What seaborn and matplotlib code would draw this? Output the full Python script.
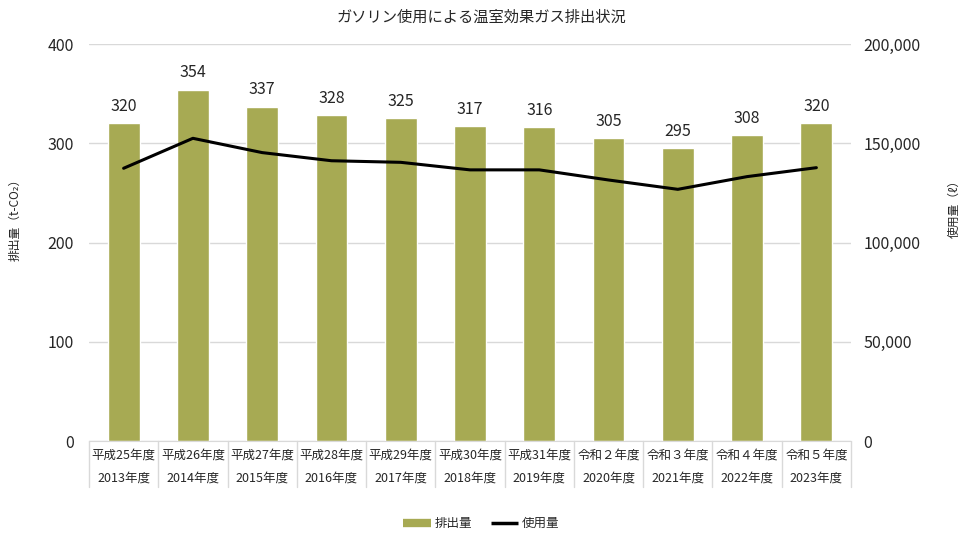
import numpy as np
import seaborn as sns
import matplotlib.pyplot as plt
from matplotlib.lines import Line2D
from matplotlib.ticker import FuncFormatter

# データ
wareki = ['平成25年度', '平成26年度', '平成27年度', '平成28年度', '平成29年度', '平成30年度',
          '平成31年度', '令和２年度', '令和３年度', '令和４年度', '令和５年度']
seireki = ['2013年度', '2014年度', '2015年度', '2016年度', '2017年度', '2018年度',
           '2019年度', '2020年度', '2021年度', '2022年度', '2023年度']
haishutsu = [320, 354, 337, 328, 325, 317, 316, 305, 295, 308, 320]
shiyou = [137400, 152500, 145300, 141200, 140400, 136600, 136600, 131500, 126800, 133200, 137700]

sns.set_style('white')
plt.rcParams['font.family'] = ['Noto Sans CJK JP', 'DejaVu Sans']
plt.rcParams['text.color'] = '#262626'

fig = plt.figure(figsize=(9.63, 5.33), dpi=100)
ax = fig.add_axes([0.0924, 0.1726, 0.7913, 0.7448])

olive = '#A7AA53'
sns.barplot(x=wareki, y=haishutsu, color=olive, width=0.46, saturation=1, ax=ax)
ax.set_ylim(0, 400)
ax.set_xlim(-0.5, len(wareki) - 0.5)
ax.set_yticks(range(0, 401, 100))
ax.yaxis.grid(True, color='#D9D9D9', lw=1)
ax.set_axisbelow(True)
ax.tick_params(axis='y', length=0, labelsize=11.5, pad=11, colors='#262626')
ax.set_xticks([])
ax.set_xlabel('')
ax.set_ylabel('')
for s in ['top', 'left', 'right']:
    ax.spines[s].set_visible(False)
ax.spines['bottom'].set_color('#D9D9D9')

for i, v in enumerate(haishutsu):
    ax.annotate(str(v), (i, v), xytext=(0, 6), textcoords='offset points',
                ha='center', va='bottom', fontsize=11.5)

# カテゴリ表
trans = ax.get_xaxis_transform()
for i in range(len(wareki) + 1):
    ax.plot([i - 0.5, i - 0.5], [0, -0.115], color='#D9D9D9', lw=1,
            transform=trans, clip_on=False)
for i in range(len(wareki)):
    ax.text(i, -0.035, wareki[i], transform=trans, ha='center', va='center', fontsize=9)
    ax.text(i, -0.093, seireki[i], transform=trans, ha='center', va='center', fontsize=9)

ax2 = ax.twinx()
sns.lineplot(x=np.arange(len(shiyou)), y=shiyou, color='black', lw=2.2, ax=ax2)
ax2.set_ylim(0, 200000)
ax2.set_yticks(range(0, 200001, 50000))
ax2.yaxis.set_major_formatter(FuncFormatter(lambda v, p: f'{int(v):,}'))
ax2.tick_params(axis='y', length=0, labelsize=11.5, pad=9, colors='#262626')
for s in ['top', 'left', 'right', 'bottom']:
    ax2.spines[s].set_visible(False)
ax2.set_xlim(-0.5, len(wareki) - 0.5)

fig.text(0.016, 0.593, '排出量（t-CO₂）', rotation=90, ha='center', va='center', fontsize=8.5)
fig.text(0.991, 0.613, '使用量（ℓ）', rotation=90, ha='center', va='center', fontsize=8.5)
fig.text(0.5, 0.968, 'ガソリン使用による温室効果ガス排出状況', ha='center', va='center', fontsize=11)

handles = [Line2D([], [], color=olive, lw=6, solid_capstyle='butt'),
           Line2D([], [], color='black', lw=2.5, solid_capstyle='butt')]
fig.legend(handles, ['排出量', '使用量'], loc='center', bbox_to_anchor=(0.5, 0.018),
           ncol=2, frameon=False, fontsize=9, handlelength=2.2, columnspacing=1.5,
           handletextpad=0.3)

fig.savefig('out.png', dpi=100)
